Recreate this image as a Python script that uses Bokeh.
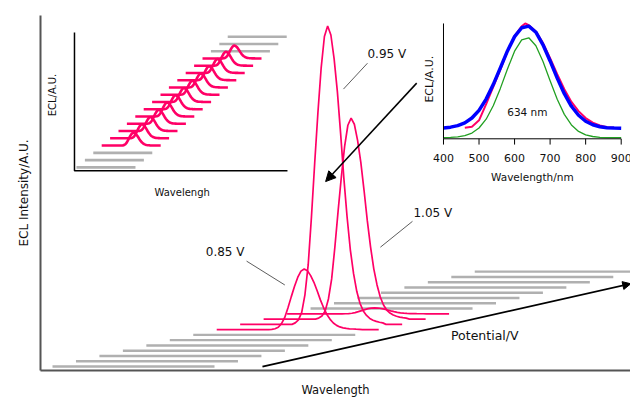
from math import pi
from bokeh.plotting import figure
from bokeh.models import Range1d, LinearAxis, FixedTicker, Arrow, NormalHead
from bokeh.core.properties import value
from bokeh.embed import file_html
from bokeh.resources import INLINE

# ---------------- data ----------------
# potentials of the 19 recorded spectra (V)
POTENTIALS = [0.15, 0.25, 0.35, 0.45, 0.55, 0.65, 0.75, 0.85, 0.95, 1.05,
              1.15, 1.25, 1.35, 1.45, 1.55, 1.65, 1.75, 1.85, 1.95]
# peak ECL intensity (A.U.) of each spectrum, main waterfall
PEAK_MAIN = [0, 0, 0, 0, 0, 0, 0, 61, 300, 202, 6, 0, 0, 0, 0, 0, 0, 0, 0]
# peak ECL intensity (A.U.) of each spectrum, small waterfall inset
PEAK_THUMB = [0, 0, 0, 13, 14, 14, 14, 14, 14, 14, 14, 14, 14, 14, 14, 13, 0, 0, 0]
LABELLED = ["0.85 V", "0.95 V", "1.05 V"]

# normalised emission band shape
WL_MAIN = [360, 370, 380, 390, 400, 410, 420, 430, 440, 450, 460, 470, 480, 490, 500,
           510, 520, 530, 540, 550, 560, 570, 580, 590, 600, 610, 620, 630,
           640, 650, 660, 670, 680, 690, 700, 710, 720, 730, 740, 750, 760, 770, 780, 790, 800,
           810, 820, 830, 840, 850, 860]
SHAPE = [0, 0, 0, 0, 0, 0, 0, 0, 0, 0, 0, 0, 0, 0, 0,
         0, 0, 0.005, 0.015, 0.04, 0.10, 0.20, 0.36, 0.54, 0.71, 0.86, 0.965, 1.0,
         0.97, 0.89, 0.78, 0.64, 0.49, 0.36, 0.25, 0.17, 0.11, 0.07, 0.045, 0.03, 0.02, 0.014, 0.01, 0.007, 0.005,
         0, 0, 0, 0, 0, 0]

# inset: measured spectrum and Gaussian fit
WL_MEAS = [460, 480, 500, 520, 540, 560, 580, 600, 620, 630, 640, 660, 680, 700,
           720, 740, 760, 780, 800, 820, 840, 860, 880]
ECL_MEAS = [0.095, 0.105, 0.16, 0.30, 0.45, 0.60, 0.76, 0.89, 0.975, 1.0, 0.985, 0.93, 0.83, 0.70,
            0.56, 0.43, 0.32, 0.24, 0.18, 0.14, 0.115, 0.10, 0.095]
WL_FIT = [400, 420, 440, 460, 480, 500, 520, 540, 560, 580, 600, 620, 640,
          660, 680, 700, 720, 740, 760, 780, 800, 820, 840, 860, 880, 900]
FIT_TOTAL = [0.094, 0.101, 0.114, 0.138, 0.180, 0.247, 0.344, 0.470, 0.615, 0.762, 0.886, 0.963, 0.977,
             0.924, 0.815, 0.675, 0.526, 0.391, 0.282, 0.204, 0.152, 0.122, 0.105, 0.096, 0.093, 0.091]
FIT_COMP = [0.010, 0.012, 0.017, 0.027, 0.050, 0.094, 0.170, 0.286, 0.437, 0.605, 0.760, 0.858, 0.876,
            0.807, 0.670, 0.504, 0.343, 0.212, 0.120, 0.064, 0.034, 0.020, 0.013, 0.011, 0.010, 0.010]
FIT_TICKS = [400, 500, 600, 700, 800, 900]
PEAK_LABEL = "634 nm"

# ---------------- style ----------------
PINK = "#ff0066"
GRAY = "#b0b0b0"
FONT = value("DejaVu Sans")
TXT = "#111111"

# oblique projection of the potential axis
V0, DV = 0.15, 0.1
SKEW_X_MAIN, SKEW_Y_MAIN = 72.4, 5.3
SKEW_X_THUMB, SKEW_Y_THUMB = 71.2, 7.3

p = figure(width=630, height=399, output_backend="svg", toolbar_location=None,
           x_range=Range1d(322.96, 2143.9), y_range=Range1d(-4, 353),
           x_axis_location=None, y_axis_location=None,
           min_border_left=40, min_border_right=0, min_border_top=15, min_border_bottom=27)
p.extra_x_ranges = {"ix": Range1d(-733.9, 926.2), "tx": Range1d(55.08, 5054.9)}
p.extra_y_ranges = {"iy": Range1d(-2.0086, 1.069), "ty": Range1d(-204.3, 152.7)}
p.grid.visible = False
p.outline_line_color = None
p.background_fill_color = "white"
p.border_fill_color = "white"

def style_axis(ax, label, size, standoff):
    ax.axis_label = label
    ax.axis_label_text_font = "DejaVu Sans"
    ax.axis_label_text_font_size = size
    ax.axis_label_text_font_style = "normal"
    ax.axis_label_text_color = TXT
    ax.axis_label_standoff = standoff
    ax.major_tick_out = 0
    ax.major_tick_in = 0
    ax.minor_tick_out = 0
    ax.minor_tick_in = 0
    ax.major_label_standoff = 0
    ax.axis_line_color = "#555555"
    ax.axis_line_width = 2

yax = LinearAxis(ticker=FixedTicker(ticks=[]))
style_axis(yax, "ECL Intensity/A.U.", "12px", 10)
p.add_layout(yax, "left")
xax = LinearAxis(ticker=FixedTicker(ticks=[]))
style_axis(xax, "Wavelength", "11.5px", 12)
p.add_layout(xax, "below")

# ---------------- small waterfall inset ----------------
for i in reversed(range(len(POTENTIALS))):
    k = (POTENTIALS[i] - V0) / DV
    xs = [w + SKEW_X_THUMB * k for w in WL_MAIN]
    ys = [SKEW_Y_THUMB * k + PEAK_THUMB[i] * s for s in SHAPE]
    if PEAK_THUMB[i] > 0:
        p.line(xs, ys, color=PINK, line_width=2.6, x_range_name="tx", y_range_name="ty")
    else:
        p.line(xs, ys, color=GRAY, line_width=2.6, x_range_name="tx", y_range_name="ty")
p.line([343.05, 343.05, 2148], [135.7, -3.3, -3.3], color="black", line_width=1.5,
       x_range_name="tx", y_range_name="ty")
p.text(x=[1255.8], y=[-25.6], text=["Wavelengh"], text_font=FONT, text_font_size=value("10px"),
       text_align="center", text_baseline="middle", text_color=TXT, x_range_name="tx", y_range_name="ty")
p.text(x=[156.6], y=[72.7], text=["ECL/A.U."], angle=pi / 2, text_font=FONT, text_font_size=value("10px"),
       text_align="center", text_baseline="middle", text_color=TXT, x_range_name="tx", y_range_name="ty")

# ---------------- main waterfall ----------------
for i in reversed(range(len(POTENTIALS))):
    k = (POTENTIALS[i] - V0) / DV
    xs = [w + SKEW_X_MAIN * k for w in WL_MAIN]
    ys = [SKEW_Y_MAIN * k + PEAK_MAIN[i] * s for s in SHAPE]
    if PEAK_MAIN[i] > 0:
        p.line(xs, ys, color=PINK, line_width=1.7)
    else:
        p.line(xs, ys, color=GRAY, line_width=2.4)

# potential axis arrow
ka, kb = 0.0, 15.7
p.add_layout(Arrow(end=NormalHead(size=8, fill_color="black", line_color="black"),
                   x_start=1008 + SKEW_X_MAIN * ka, y_start=SKEW_Y_MAIN * ka,
                   x_end=1008 + SKEW_X_MAIN * kb, y_end=SKEW_Y_MAIN * kb,
                   line_color="black", line_width=1.8))
p.text(x=[1590], y=[31], text=["Potential/V"], text_font=FONT, text_font_size=value("12.5px"),
       text_align="left", text_baseline="middle", text_color=TXT)

# peak labels and leader lines
p.text(x=[833, 1332, 1474], y=[115, 314, 154], text=LABELLED, text_font=FONT,
       text_font_size=value("12px"), text_align="left", text_baseline="middle", text_color=TXT)
p.segment(x0=[959, 1332, 1471], y0=[106, 305, 146], x1=[1077, 1258, 1372], y1=[82, 279, 120],
          color="#333333", line_width=0.8)

# arrow from the inset to the main spectrum
p.add_layout(Arrow(end=NormalHead(size=10, fill_color="black", line_color="black"),
                   x_start=1484, y_start=285, x_end=1203, y_end=186,
                   line_color="black", line_width=1.5))

# ---------------- fit inset ----------------
p.line(WL_MEAS, ECL_MEAS, color=PINK, line_width=2, x_range_name="ix", y_range_name="iy")
p.line(WL_FIT, FIT_TOTAL, color="#0000ff", line_width=3.5, x_range_name="ix", y_range_name="iy")
p.line(WL_FIT, FIT_COMP, color="#22a022", line_width=1.3, x_range_name="ix", y_range_name="iy")
p.line([400, 400, 900], [1.0, 0, 0], color="black", line_width=1, x_range_name="ix", y_range_name="iy")
p.segment(x0=FIT_TICKS, y0=[0] * len(FIT_TICKS), x1=FIT_TICKS, y1=[-0.05] * len(FIT_TICKS),
          color="black", line_width=1, x_range_name="ix", y_range_name="iy")
p.text(x=FIT_TICKS, y=[-0.165] * len(FIT_TICKS), text=[str(t) for t in FIT_TICKS], text_font=FONT,
       text_font_size=value("11px"), text_align="center", text_baseline="middle", text_color=TXT,
       x_range_name="ix", y_range_name="iy")
p.text(x=[650], y=[-0.33], text=["Wavelength/nm"], text_font=FONT, text_font_size=value("10.5px"),
       text_align="center", text_baseline="middle", text_color=TXT, x_range_name="ix", y_range_name="iy")
p.text(x=[360.6], y=[0.517], text=["ECL/A.U."], angle=pi / 2, text_font=FONT,
       text_font_size=value("11px"), text_align="center", text_baseline="middle", text_color=TXT,
       x_range_name="ix", y_range_name="iy")
p.text(x=[636], y=[0.235], text=[PEAK_LABEL], text_font=FONT, text_font_size=value("10.5px"),
       text_align="center", text_baseline="middle", text_color=TXT, x_range_name="ix", y_range_name="iy")

open("out.html", "w").write(file_html(p, INLINE))
